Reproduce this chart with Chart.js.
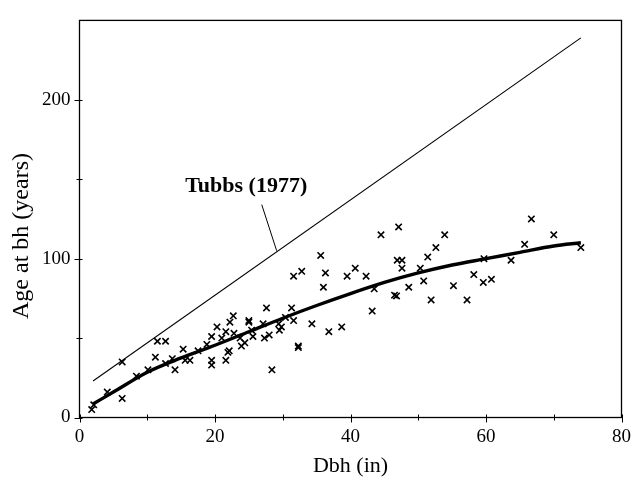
<!DOCTYPE html>
<html><head><meta charset="utf-8">
<script src="https://cdn.jsdelivr.net/npm/chart.js@4"></script>
<style>html,body{margin:0;padding:0;background:#fff}#wrap{width:639px;height:485px}</style>
</head><body><div id="wrap"><canvas id="c" width="639" height="485"></canvas></div>
<script>
// Observed trees
const dbh = [1.8,2.1,4.1,6.3,6.3,8.4,10.1,11.2,11.5,12.7,12.7,13.7,14.1,15.3,15.6,16.3,17.5,18.8,19.5,20.3,19.5,19.5,21.0,21.6,22.8,22.7,22.2,25.0,25.0,23.7,24.4,23.9,25.4,25.6,22.1,21.9,21.6,27.1,27.6,27.3,28.0,28.4,29.4,29.8,29.5,30.4,31.6,31.3,31.6,32.8,32.3,32.3,34.3,35.6,36.3,36.0,36.8,38.7,39.5,40.7,42.3,43.5,43.2,44.5,47.1,46.9,47.6,47.6,46.5,46.8,48.6,50.3,50.8,51.4,51.9,52.6,53.9,55.2,57.2,58.2,59.6,60.8,59.7,63.7,65.7,66.7,70.0,74.0];
const age = [5,8,16,35,12,26,30,38,48,48,34,37,30,43,36,36,42,46,51,57,36,33,50,54,53,64,60,60,61,50,47,45,55,51,42,41,36,59,69,50,52,30,59,57,55,63,61,69,89,92,44,45,59,102,91,82,54,57,89,94,89,81,67,115,120,99,99,94,77,76.5,82,94,86,101,74,107,115,83,74,90,85,87,100,99,109,125,115,107];
// Fitted curve
const fitDbh = [2,5,10,15,20,25,30,35,40,45,50,55,60,65,70,74];
const fitAge = [8.5,16,28.5,37.5,45.5,54,62.5,70.5,78,85,91,96,100,104,108,110];
// Tubbs (1977) line
const tubbsDbh = [2,74];
const tubbsAge = [23,239];
// Leader line of the annotation
const noteDbh = [26.9,29.1];
const noteAge = [134,105];
const noteLabel = 'Tubbs (1977)';
const xTicks = [0,20,40,60,80];
const yTicks = [0,100,200];
const xTitle = 'Dbh (in)';
const yTitle = 'Age at bh (years)';

const serif = '"Liberation Serif", "Times New Roman", serif';
const pts = (xs, ys) => xs.map((x, i) => ({x, y: ys[i]}));

const decor = {
  id: 'decor',
  afterDraw(chart) {
    const {ctx, chartArea: a, scales: {x, y}} = chart;
    ctx.save();
    ctx.strokeStyle = '#000';
    ctx.lineWidth = 1.3;
    ctx.strokeRect(a.left, a.top, a.right - a.left, a.bottom - a.top);
    ctx.lineWidth = 1;
    ctx.beginPath();
    for (let v = 0; v <= 80; v += 10) {
      const px = Math.round(x.getPixelForValue(v)) + 0.5;
      const major = v % 20 === 0;
      ctx.moveTo(px, a.bottom + (major ? 5 : 3));
      ctx.lineTo(px, a.bottom - 3);
    }
    for (let v = 0; v <= 200; v += 50) {
      const py = Math.round(y.getPixelForValue(v)) + 0.5;
      const major = v % 100 === 0;
      ctx.moveTo(a.left - (major ? 5 : 3), py);
      ctx.lineTo(a.left + 3, py);
    }
    ctx.stroke();
    ctx.fillStyle = '#000';
    ctx.font = 'bold 22px ' + serif;
    ctx.textAlign = 'center';
    ctx.textBaseline = 'middle';
    ctx.fillText(noteLabel, x.getPixelForValue(24.6), y.getPixelForValue(145.5));
    // y axis title
    ctx.font = '24px ' + serif;
    ctx.translate(22, 236);
    ctx.rotate(-Math.PI / 2);
    ctx.fillText(yTitle, 0, 0);
    ctx.restore();
  }
};

new Chart(document.getElementById('c'), {
  type: 'scatter',
  data: {
    datasets: [
      {label: 'obs', data: pts(dbh, age), pointStyle: 'crossRot', pointRadius: 4.5, borderColor: '#000', borderWidth: 1.6, backgroundColor: '#000', showLine: false},
      {label: 'fit', data: pts(fitDbh, fitAge), showLine: true, borderColor: '#000', borderWidth: 3.4, pointRadius: 0, cubicInterpolationMode: 'monotone', fill: false},
      {label: 'tubbs', data: pts(tubbsDbh, tubbsAge), showLine: true, borderColor: '#000', borderWidth: 1.1, pointRadius: 0, fill: false},
      {label: 'note', data: pts(noteDbh, noteAge), showLine: true, borderColor: '#000', borderWidth: 1, pointRadius: 0, fill: false}
    ]
  },
  options: {
    responsive: false,
    animation: false,
    devicePixelRatio: 1,
    layout: {padding: {left: 0, right: 11.5, top: 9.5, bottom: 0}},
    plugins: {legend: {display: false}, tooltip: {enabled: false}},
    scales: {
      x: {
        type: 'linear', min: 0, max: 80,
        grid: {display: false, drawTicks: false},
        border: {display: false},
        afterBuildTicks(s) { s.ticks = xTicks.map(v => ({value: v})); },
        ticks: {autoSkip: false, maxRotation: 0, padding: 8, color: '#000', font: {family: serif, size: 19}},
        title: {display: true, text: xTitle, color: '#000', font: {family: serif, size: 22}, padding: {top: 0, bottom: 6}},
        afterFit(s) { s.height = 67.5; }
      },
      y: {
        type: 'linear', min: 0, max: 250,
        grid: {display: false, drawTicks: false},
        border: {display: false},
        afterBuildTicks(s) { s.ticks = yTicks.map(v => ({value: v})); },
        ticks: {autoSkip: false, padding: 9, color: '#000', font: {family: serif, size: 19}},
        title: {display: false},
        afterFit(s) { s.width = 79.5; }
      }
    }
  },
  plugins: [decor]
});
</script>
</body></html>
